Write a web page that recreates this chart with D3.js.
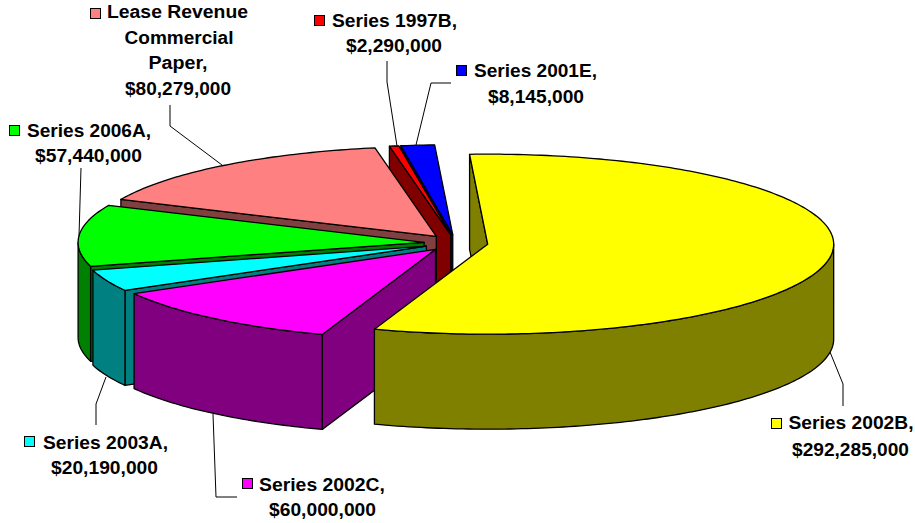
<!DOCTYPE html>
<html><head><meta charset="utf-8">
<script src="https://cdn.jsdelivr.net/npm/d3@7/dist/d3.min.js"></script>
<style>html,body{margin:0;padding:0;background:#fff}svg{display:block}
text{font-family:"Liberation Sans",Arial,sans-serif;font-weight:700;font-size:18px;fill:#000;text-anchor:middle}</style>
</head><body><svg id="c" width="915" height="523"></svg>
<script>
// Data, in pie order (clockwise)
const categories = ["Series 2002B","Series 2002C","Series 2003A","Series 2006A","Lease Revenue Commercial Paper","Series 1997B","Series 2001E"];
const values = [292285000,60000000,20190000,57440000,80279000,2290000,8145000];
const valueLabels = ["$292,285,000","$60,000,000","$20,190,000","$57,440,000","$80,279,000","$2,290,000","$8,145,000"];
const topColors = ["#ffff00","#ff00ff","#00ffff","#00ff00","#ff8080","#ff0000","#0000ff"];
const sideColors = ["#808000","#800080","#008080","#008000","#804040","#800000","#000080"];
// Layout
const cx=456, cy=243, rx=346, ry=90, depth=95, explode=32;
const startDeg=-3;
const paintOrder=[6,5,4,3,2,1,0];
// name lines: [text, centre x, baseline, width], key [x,y], leader polyline
const labelLayout=[
 {lines:[["Series 2002B,",851,429,125],["$292,285,000",850.5,456,117]],key:[771,418],leader:[[830,352],[843,384],[843,406]]},
 {lines:[["Series 2002C,",322,491,126],["$60,000,000",322.5,516,107]],key:[242,478],leader:[[213,414],[216,497],[237,497]]},
 {lines:[["Series 2003A,",105.5,449,125],["$20,190,000",104.5,474,107]],key:[24,436],leader:[[106,377],[96,404],[96,425]]},
 {lines:[["Series 2006A,",89,137,124],["$57,440,000",88.5,162,107]],key:[9,125],leader:[[81,168],[79,236]]},
 {lines:[["Lease Revenue",177.5,18,141],["Commercial",179,44,109],["Paper,",178,69,59],["$80,279,000",178,95,106]],key:[90,8],leader:[[170,105],[170,126],[222,165]]},
 {lines:[["Series 1997B,",394.5,27,125],["$2,290,000",394,52,96]],key:[314,15],leader:[[387,61],[387,82],[397,146]]},
 {lines:[["Series 2001E,",535.5,77,123],["$8,145,000",536,103,96]],key:[456,65],leader:[[451,83],[431,83],[416,145]]}
];
const rad=d=>d*Math.PI/180;
const pie=d3.pie().sort(null).startAngle(rad(startDeg)).endAngle(rad(startDeg+360));
const arcs=pie(values);
const svg=d3.select("#c");
const line=d3.line();
function wedgeGeom(a){
  const mid=(a.startAngle+a.endAngle)/2;
  const ax=cx+explode*Math.sin(mid), ay=cy-explode*Math.cos(mid)*ry/rx;
  const pt=(t,z=0)=>[ax+rx*Math.sin(t), ay-ry*Math.cos(t)+z];
  const samples=(s,e)=>{const n=Math.max(2,Math.ceil((e-s)/rad(1)));return d3.range(n+1).map(i=>s+(e-s)*i/n);};
  return {ax,ay,pt,samples};
}
paintOrder.forEach(i=>{
  const a=arcs[i], g=wedgeGeom(a), s=a.startAngle, e=a.endAngle;
  const G=svg.append("g");
  const draw=(pts,fill)=>G.append("path").attr("d",line(pts)+"Z").attr("fill",fill).attr("stroke","#000").attr("stroke-width",1.3).attr("stroke-linejoin","round");
  if(-Math.cos(s-Math.PI/2)>0){
    draw([[g.ax,g.ay],g.pt(s),g.pt(s,depth),[g.ax,g.ay+depth]],sideColors[i]);
  }
  if(-Math.cos(e+Math.PI/2)>0){
    draw([[g.ax,g.ay],g.pt(e),g.pt(e,depth),[g.ax,g.ay+depth]],sideColors[i]);
  }
  const s2=Math.max(s,rad(90)), e2=Math.min(e,rad(270));
  if(e2>s2){
    const ts=g.samples(s2,e2);
    draw(ts.map(t=>g.pt(t)).concat(ts.slice().reverse().map(t=>g.pt(t,depth))),sideColors[i]);
  }
  draw([[g.ax,g.ay]].concat(g.samples(s,e).map(t=>g.pt(t))),topColors[i]);
});
labelLayout.forEach((l,i)=>{
  svg.append("path").attr("d",line(l.leader)).attr("fill","none").attr("stroke","#000").attr("stroke-width",1);
  svg.append("rect").attr("x",l.key[0]+.5).attr("y",l.key[1]+.5).attr("width",10).attr("height",10).attr("fill",topColors[i]).attr("stroke","#000");
  l.lines.forEach(t=>{
    svg.append("text").attr("x",t[1]).attr("y",t[2]).attr("textLength",t[3]).attr("lengthAdjust","spacingAndGlyphs").text(t[0]);
  });
});
</script></body></html>
